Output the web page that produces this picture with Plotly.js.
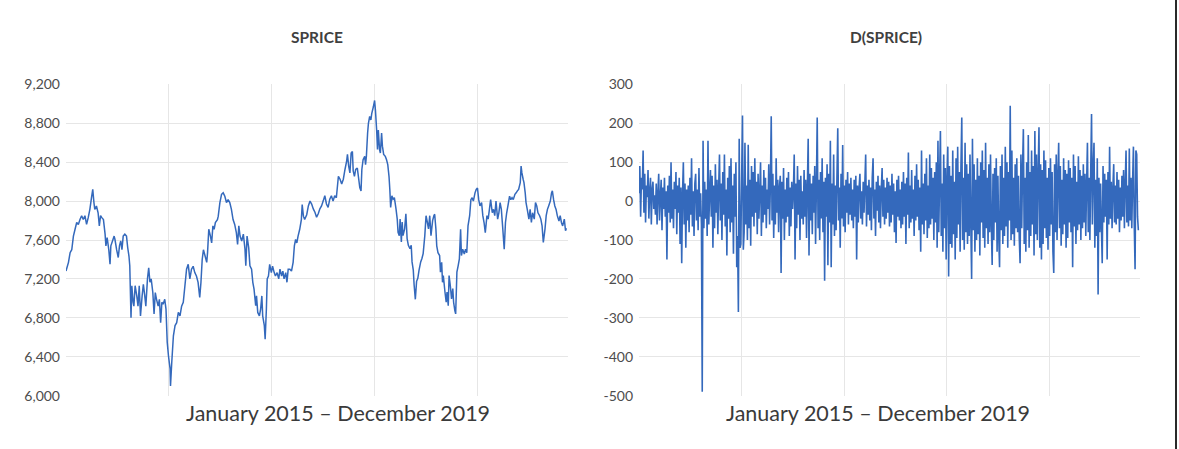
<!DOCTYPE html>
<html><head><meta charset="utf-8">
<script src="https://cdn.plot.ly/plotly-3.0.1.min.js"></script>
<style>html,body{margin:0;padding:0;background:#fff;} #chart{width:1179px;height:449px;}</style>
</head><body><div id="chart"></div>
<script>
const priceDay = [0,6,10,14,18,22,26,30,34,38,42,46,50,54,58,62,65,68,70,74,78,81,84,87,91,95,97,100,104,107,109,113,117,119,123,127,130,133,136,139,143,147,150,153,155,158,160,163,165,168,172,175,178,181,185,188,191,194,198,201,204,207,211,214,217,220,224,227,230,233,236,240,243,246,249,253,254,257,261,265,269,273,277,281,285,289,
293,297,301,305,309,313,317,321,325,328,331,334,338,342,344,347,351,354,357,360,363,368,370,374,378,382,386,390,394,398,402,406,410,414,417,420,423,427,431,435,437,440,444,447,451,454,457,461,463,466,470,473,476,478,482,484,487,489,492,495,499,502,506,509,513,517,520,524,527,530,534,537,540,544,548,552,555,558,561,564,568,572,574,577,580,585,589,
593,597,601,605,609,613,617,621,625,629,633,637,641,645,649,653,657,662,666,670,674,678,682,684,687,690,693,696,698,701,704,708,711,714,717,719,722,726,728,730,733,735,738,741,743,747,750,752,755,757,759,762,764,767,769,772,776,779,782,785,787,789,792,795,798,802,805,807,810,812,815,817,819,823,826,829,832,836,839,841,844,846,849,852,855,858,862,865,868,872,875,878,881,884,887,891,894,
896,899,901,904,908,910,913,915,917,921,924,926,929,931,934,937,940,942,945,947,950,953,956,959,961,964,968,971,974,977,981,984,987,990,994,997,1000,1003,1006,1010,1013,1016,1019,1023,1026,1029,1032,1036,1039,1042,1045,1049,1052,1055,1058,1061,1065,1068,1071,1074,1078,1081,1084,1087,1091,1094,1097,1100,1104,1106,1108,1111,1113,1116,1118,1121,1125,1128,1131,1134,1138,1141,1144,1147,1151,1154,1157,1160,1164,1167,1170,1173,1177,1180,1182,1185,1188,1191,1194,1198,1201,1204,1207,1211,1214,1216];
const price = [7280,7370,7470,7500,7640,7710,7780,7760,7810,7850,7810,7850,7760,7830,7915,8035,8120,7980,7915,7950,7880,7745,7850,7830,7810,7660,7540,7625,7500,7350,7540,7590,7640,7605,7500,7420,7540,7590,7500,7640,7660,7640,7520,7435,7335,6800,7130,6960,6920,7130,7025,6920,7130,6820,7025,7145,7040,6920,7200,7315,7165,7200,7060,6840,7060,6990,6920,6990,6750,6960,6940,6990,6890,6550,6410,6275,6100,6340,6615,6720,6750,6855,6820,6920,6960,7130,
7300,7350,7200,7300,7330,7265,7230,7165,7010,7165,7400,7500,7435,7370,7470,7710,7640,7570,7745,7710,7780,7810,7845,7985,8070,8085,8050,7985,8015,7985,7915,7810,7760,7675,7555,7745,7640,7590,7660,7505,7335,7640,7520,7335,7300,7165,7095,6925,7025,6855,6820,6890,7025,6820,6720,6580,6890,7200,7230,7350,7265,7330,7265,7230,7265,7200,7300,7230,7280,7200,7265,7165,7300,7300,7280,7370,7540,7605,7570,7640,7710,7810,7965,7845,7810,7860,7950,
8000,7970,7920,7885,7835,7870,7920,7950,8000,8055,7970,7935,8020,8055,8000,8055,8035,8255,8225,8175,8225,8325,8410,8480,8360,8290,8495,8510,8310,8255,8325,8340,8240,8140,8105,8325,8425,8460,8375,8460,8700,8800,8870,8835,8900,8970,9035,8935,8730,8530,8730,8530,8495,8700,8565,8480,8460,8425,8375,8255,8120,7935,8055,8020,8035,7920,7815,7680,7645,7815,7580,7785,7645,7715,7870,7615,7545,7510,7545,7375,7290,7140,6990,7175,7205,7290,7375,7410,7460,7645,7850,7785,7715,7850,7645,7800,7850,
7865,7710,7540,7470,7440,7270,7370,7165,7235,7065,6960,7065,6925,7235,7130,6995,7100,6960,6875,6840,7270,7335,7405,7710,7440,7505,7455,7505,7470,7745,7850,8015,8035,8000,8085,8120,8135,8015,7950,7985,7850,7780,7675,7850,7815,7915,8015,7880,7915,7850,8000,7815,7880,7985,7915,7745,7505,7780,7880,7950,8050,8015,8035,8015,8070,8085,8105,8120,8190,8360,8290,8225,8190,8085,7985,7915,7815,7915,7780,7880,7815,7985,7950,7880,7850,7815,7745,7575,7710,7850,7915,7950,8000,8085,8105,8015,7950,7915,7850,7795,7850,7780,7745,7815,7695,7720];

// D(SPRICE), one reading every second observation
const diffStep = 2;
const diff = [
20,90,-40,60,30,130,-30,70,-55,40,10,80,-45,25,60,-60,30,50,-20,15,
-35,45,-60,20,70,-50,10,55,-75,35,-20,60,-40,25,-150,40,-30,65,-55,100,
-45,30,-70,50,-20,75,-85,40,-30,60,-110,35,-160,20,100,-60,45,-120,30,-50,
40,-80,60,-35,110,-65,25,-90,45,70,-50,30,-75,85,-40,20,-60,-490,155,-70,
50,-45,30,-90,155,-60,20,80,-40,65,-120,40,-70,95,-30,55,-85,35,120,-50,
45,-100,75,-35,120,-65,30,-140,60,-45,90,-80,110,-55,40,-135,70,-40,100,-170,
-90,-285,160,-120,-110,60,220,-125,-80,150,-60,40,-100,145,-70,55,-115,90,-40,75,
-65,110,-30,50,-85,70,-45,25,100,-90,40,-55,80,-35,60,-70,30,-20,95,-60,
45,218,-50,70,-95,40,-60,110,-30,55,-80,35,65,-185,50,-45,85,-100,30,-55,
60,-40,75,-90,35,-65,50,-20,30,120,-150,45,-70,90,-35,55,-100,65,-45,25,
-60,80,-40,55,-95,35,160,-140,70,-50,45,-85,65,-30,90,-110,40,215,-70,55,
-100,75,-45,110,-80,50,-205,60,-40,95,-165,70,-55,155,-170,45,-60,120,-90,40,
-75,60,187,-50,35,-120,70,-45,144,-65,40,-80,55,-30,75,-60,45,-35,60,-50,
30,-70,55,-40,65,-150,40,-55,35,70,-45,25,-60,50,-30,45,120,-65,40,-35,
55,-50,35,-75,60,110,-45,30,-90,50,-25,65,-55,40,-70,30,85,-40,55,-60,
35,-45,60,-30,50,-65,40,-55,70,-35,45,-80,25,-108,55,-40,65,-50,30,-70,
50,-60,75,-40,45,-110,60,-35,125,-70,40,-55,80,-45,30,-90,65,-50,95,-40,
55,-75,35,-130,130,-60,45,-85,70,-50,110,-95,40,-70,120,-60,85,-45,60,-100,
75,-55,100,-120,155,-80,60,180,-90,45,-130,120,-70,85,-150,60,140,-194,90,-110,
65,-120,130,-85,50,-150,110,-95,140,-60,75,-130,90,215,-100,60,-125,150,-80,95,
-110,70,-90,120,-60,-200,160,-75,95,-130,55,-100,110,-85,65,-140,100,-55,130,-95,
80,-120,150,-70,60,-110,95,-80,120,-60,-164,70,-100,85,-55,110,-130,65,-90,-170,
90,-75,120,-110,60,-90,140,-65,100,-120,75,-50,245,-100,130,-85,60,-115,95,-70,
110,-80,65,-95,-160,120,-70,85,185,-110,60,-130,100,-75,170,-120,75,-90,130,-60,
90,-140,180,-85,120,-100,70,190,-120,95,-150,80,-110,130,-70,105,-95,60,-125,85,
-90,110,-60,75,-130,-185,95,-80,120,-100,65,150,-70,90,-115,55,-85,110,-60,80,
-120,70,-95,105,-55,85,-80,60,-170,120,-65,90,-110,50,-75,115,-60,80,-100,65,
-70,95,-55,70,-90,45,150,-80,60,-100,75,224,-60,85,150,-120,55,-90,110,-240,
60,-80,45,-65,-160,90,-55,70,-40,55,-150,75,-60,140,-45,50,-70,35,95,-55,
40,-60,75,-45,55,-80,35,-50,65,-40,80,-70,45,130,-55,40,-65,135,-50,60,
-70,50,140,-60,-175,130,120,-40,-75];

const priceTicks = [6000,6400,6800,7200,7600,8000,8400,8800,9200];
const priceTickText = ['6,000','6,400','6,800','7,200','7,600','8,000','8,400','8,800','9,200'];
const priceGrid = [6400,6800,7200,7600,8000,8400,8800];
const diffTicks = [-500,-400,-300,-200,-100,0,100,200,300];
const diffTickText = ['-500','-400','-300','-200','-100','0','100','200','300'];
const diffGrid = [-400,-300,-200,-100,0,100,200];
const gridDays = [250,500,750,1000];
const panelTitles = ['SPRICE','D(SPRICE)'];
const periodLabel = 'January 2015 \u2013 December 2019';

const lineColor = '#3469bc';
const gridColor = '#e6e6e6';
const tickFont = {family:'Lato, "DejaVu Sans", sans-serif', size:14, color:'#4d4d4d'};

const diffDay = diff.map((_, i) => i * diffStep);

const traces = [
  // empty helpers so the gridline-only overlay axes get drawn
  {x: [], y: [], type:'scatter', mode:'lines', xaxis:'x', yaxis:'y3', hoverinfo:'skip'},
  {x: [], y: [], type:'scatter', mode:'lines', xaxis:'x2', yaxis:'y4', hoverinfo:'skip'},
  {x: priceDay, y: price, type:'scatter', mode:'lines', xaxis:'x', yaxis:'y',
   line:{color:lineColor, width:1.5, simplify:false}, hoverinfo:'skip'},
  {x: diffDay, y: diff, type:'scatter', mode:'lines', xaxis:'x2', yaxis:'y2',
   line:{color:lineColor, width:1.6, simplify:false}, hoverinfo:'skip'}
];

const W = 1179, H = 449;
const xDom1 = [66/W, 568/W], xDom2 = [639/W, 1140/W];
const yDom = [1 - 395.6/H, 1 - 84.4/H];

function gridX(dom, anchor){
  return {domain:dom, anchor:anchor, range:[0,1220], tickmode:'array', tickvals:gridDays,
    showticklabels:false, ticks:'', showgrid:true, gridcolor:gridColor, gridwidth:1,
    zeroline:false, showline:false, fixedrange:true};
}
function labelY(anchor, range, vals, text){
  return {domain:yDom, anchor:anchor, side:'left', range:range, tickmode:'array',
    tickvals:vals, ticktext:text, showgrid:false, zeroline:false, showline:false,
    ticks:'', ticklabelstandoff:5, tickfont:tickFont, fixedrange:true};
}
function gridY(over, anchor, range, vals){
  return {overlaying:over, anchor:anchor, side:'left', range:range, tickmode:'array', tickvals:vals,
    showticklabels:false, ticks:'', showgrid:true, gridcolor:gridColor, gridwidth:1,
    zeroline:false, showline:false, fixedrange:true, layer:'below traces'};
}

const layout = {
  width:W, height:H, margin:{l:0,r:0,t:0,b:0},
  paper_bgcolor:'#ffffff', plot_bgcolor:'rgba(0,0,0,0)', showlegend:false,
  xaxis: gridX(xDom1,'y'),
  yaxis: labelY('x',[6000,9200],priceTicks,priceTickText),
  xaxis2: gridX(xDom2,'y2'),
  yaxis2: labelY('x2',[-500,300],diffTicks,diffTickText),
  yaxis3: gridY('y','x',[6000,9200],priceGrid),
  yaxis4: gridY('y2','x2',[-500,300],diffGrid),
  annotations:[
    {text:panelTitles[0], xref:'paper', yref:'paper', x:317/W, y:1-37/H, showarrow:false,
     xanchor:'center', yanchor:'middle', font:{family:'Lato, sans-serif', size:15.5, color:'#404040', weight:'bold'}},
    {text:panelTitles[1], xref:'paper', yref:'paper', x:886/W, y:1-37/H, showarrow:false,
     xanchor:'center', yanchor:'middle', font:{family:'Lato, sans-serif', size:15.5, color:'#404040', weight:'bold'}},
    {text:periodLabel, xref:'paper', yref:'paper', x:338/W, y:1-413/H, showarrow:false,
     xanchor:'center', yanchor:'middle', font:{family:'Lato, sans-serif', size:21.5, color:'#3a3a3a'}},
    {text:periodLabel, xref:'paper', yref:'paper', x:878/W, y:1-413/H, showarrow:false,
     xanchor:'center', yanchor:'middle', font:{family:'Lato, sans-serif', size:21.5, color:'#3a3a3a'}}
  ],
  shapes:[
    {type:'line', xref:'paper', yref:'paper', x0:1176/W, x1:1176/W, y0:0, y1:1,
     line:{color:'#2a2a2a', width:2}}
  ]
};

Plotly.newPlot('chart', traces, layout, {staticPlot:true, displayModeBar:false});
</script>
</body></html>
